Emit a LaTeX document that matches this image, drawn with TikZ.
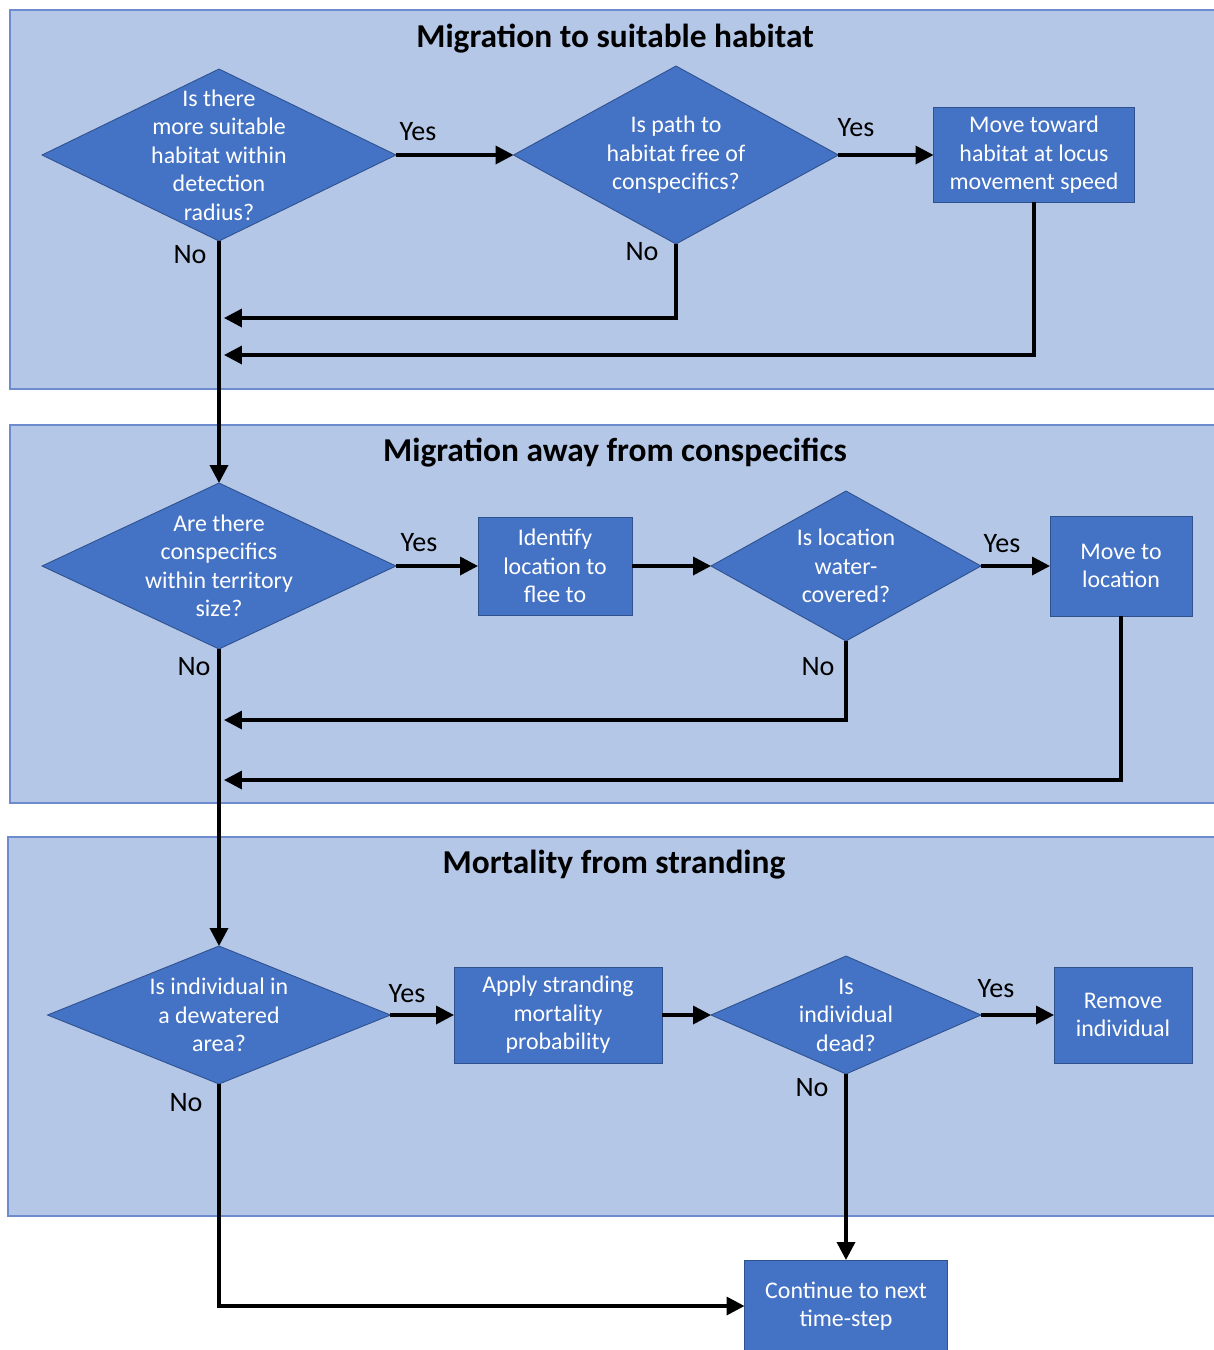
\documentclass[tikz,border=0pt]{standalone}
\usepackage{fontspec}
\setmainfont{Carlito}
\usetikzlibrary{shapes.geometric,arrows.meta}
\definecolor{panelfill}{RGB}{180,199,231}
\definecolor{panelline}{RGB}{110,140,205}
\definecolor{boxfill}{RGB}{68,114,196}
\definecolor{boxline}{RGB}{47,82,143}
\tikzset{
  panel/.style={fill=panelfill, draw=panelline, line width=0.6pt},
  title/.style={font=\fontsize{19}{23}\selectfont\bfseries},
  qtext/.style={text=white, align=center, font=\fontsize{13.6}{16.2}\selectfont},
  question/.style={diamond, fill=boxfill, draw=boxline, line width=0.5pt, inner sep=0pt, outer sep=0pt},
  process/.style={rectangle, fill=boxfill, draw=boxline, line width=0.5pt, inner sep=0pt, outer sep=0pt, qtext},
  lbl/.style={font=\fontsize{16}{19}\selectfont},
  flow/.style={line width=2pt, -{Triangle[length=0.36cm,width=0.36cm]}},
}
\begin{document}
\begin{tikzpicture}[x=0.02cm, y=-0.02cm]
\useasboundingbox (0,0) rectangle (1214,1350);

% panels
\draw[panel] (10,10) rectangle (1222,389);
\draw[panel] (10,425) rectangle (1222,803);
\draw[panel] (8,837) rectangle (1222,1216);
\node[title] (t1) at (615,39) {Migration to suitable habitat};
\node[title] (t2) at (615,453) {Migration away from conspecifics};
\node[title] (t3) at (614,865) {Mortality from stranding};

% first panel
\node[question, minimum width=7.08cm, minimum height=3.44cm,
  label={[qtext]center:{Is there\\more suitable\\habitat within\\detection\\radius?}}] (q1) at (219,155) {};
\node[question, minimum width=6.5cm, minimum height=3.56cm,
  label={[qtext]center:{Is path to\\habitat free of\\conspecifics?}}] (q2) at (676,155) {};
\node[process, minimum width=4.02cm, minimum height=1.9cm] (move1) at (1034,155) {Move toward\\habitat at locus\\movement speed};
\coordinate (r1) at (224,318);
\coordinate (r2) at (224,355);

% second panel
\node[question, minimum width=7.08cm, minimum height=3.32cm,
  label={[qtext]center:{Are there\\conspecifics\\within territory\\size?}}] (q3) at (219,566) {};
\node[process, minimum width=3.08cm, minimum height=1.96cm] (flee) at (555,566) {Identify\\location to\\flee to};
\node[question, minimum width=5.4cm, minimum height=3cm,
  label={[qtext]center:{Is location\\water-\\covered?}}] (q4) at (846,566) {};
\node[process, minimum width=2.84cm, minimum height=2cm] (move2) at (1121,566) {Move to\\location};
\coordinate (r3) at (224,720);
\coordinate (r4) at (224,780);

% third panel
\node[question, minimum width=6.86cm, minimum height=2.76cm,
  label={[qtext]center:{Is individual in\\a dewatered\\area?}}] (q5) at (219,1015) {};
\node[process, minimum width=4.16cm, minimum height=1.92cm] (apply) at (558,1015) {Apply stranding\\mortality\\probability};
\node[question, minimum width=5.4cm, minimum height=2.36cm,
  label={[qtext]center:{Is\\individual\\dead?}}] (q6) at (846,1015) {};
\node[process, minimum width=2.76cm, minimum height=1.92cm] (remove) at (1123,1015) {Remove\\individual};
\node[process, minimum width=4.06cm, minimum height=1.84cm] (next) at (846,1306) {Continue to next\\time-step};

\foreach \n/\x/\y/\t in {y1/418/132/Yes, y2/856/128/Yes, n1/190/255/No, n2/642/252/No,
  y3/419/543/Yes, y4/1002/544/Yes, n3/194/667/No, n4/818/667/No,
  y5/407/994/Yes, y6/996/989/Yes, n5/186/1103/No, n6/812/1088/No}{
  \node[lbl] (\n) at (\x,\y) {\t};
}

\draw[flow] (q1.east) -- (q2.west);
\draw[flow] (q2.east) -- (move1.west);
\draw[flow] (q2.south) |- (r1);
\draw[flow] (move1.south) |- (r2);
\draw[flow] (q1.south) -- (q3.north);

\draw[flow] (q3.east) -- (flee.west);
\draw[flow] (flee.east) -- (q4.west);
\draw[flow] (q4.east) -- (move2.west);
\draw[flow] (q4.south) |- (r3);
\draw[flow] (move2.south) |- (r4);
\draw[flow] (q3.south) -- (q5.north);

\draw[flow] (q5.east) -- (apply.west);
\draw[flow] (apply.east) -- (q6.west);
\draw[flow] (q6.east) -- (remove.west);
\draw[flow] (q6.south) -- (next.north);
\draw[flow] (q5.south) |- (next.west);

\end{tikzpicture}
\end{document}
